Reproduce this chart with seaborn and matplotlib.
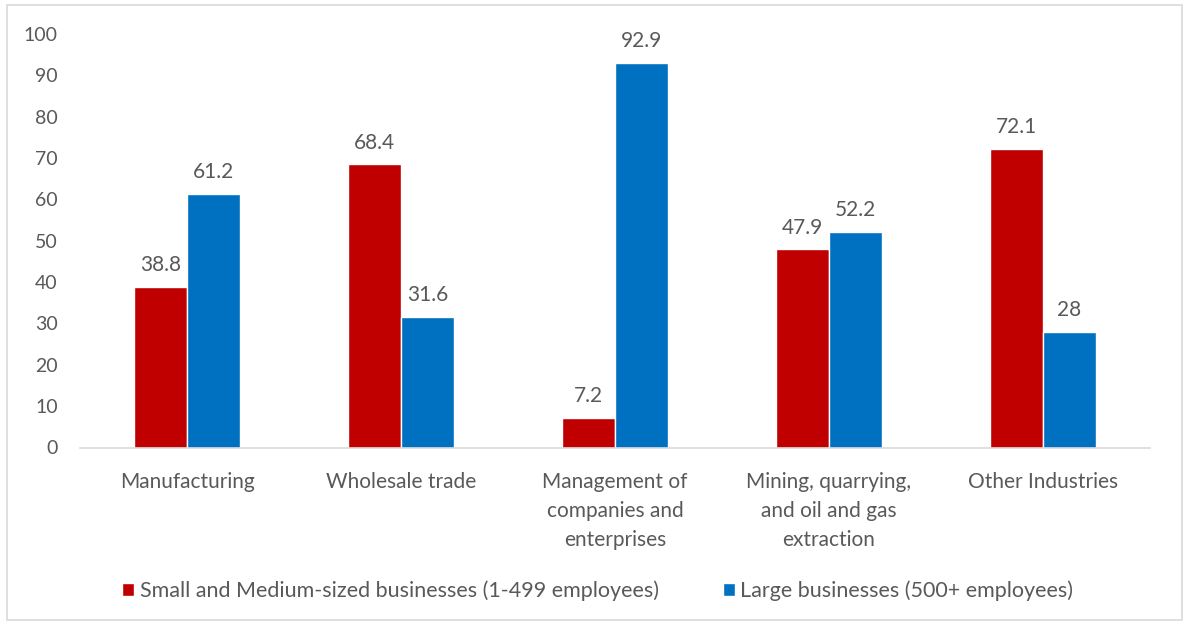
import matplotlib
matplotlib.use("Agg")
import matplotlib.pyplot as plt
import seaborn as sns
import pandas as pd
from matplotlib.patches import Rectangle

categories = [
    "Manufacturing",
    "Wholesale trade",
    "Management of\ncompanies and\nenterprises",
    "Mining, quarrying,\nand oil and gas\nextraction",
    "Other Industries",
]
series_names = [
    "Small and Medium-sized businesses (1-499 employees)",
    "Large businesses (500+ employees)",
]
small_medium = [38.8, 68.4, 7.2, 47.9, 72.1]
large = [61.2, 31.6, 92.9, 52.2, 28]
y_ticks = list(range(0, 101, 10))

colors = ["#C00000", "#0070C0"]
text_color = "#595959"

df = pd.DataFrame({
    "category": categories * 2,
    "series": [series_names[0]] * len(categories) + [series_names[1]] * len(categories),
    "value": small_medium + large,
})

sns.set_theme(style="white")
plt.rcParams["font.family"] = ["Lato", "DejaVu Sans"]

fig = plt.figure(figsize=(11.84, 6.25), dpi=100)
ax = fig.add_axes([0.0676, 0.284, 0.9035, 0.662])

sns.barplot(
    data=df, x="category", y="value", hue="series",
    palette=colors, width=0.495, saturation=1, ax=ax, legend=True,
)

for container in ax.containers:
    ax.bar_label(container, labels=[f"{v:g}" for v in container.datavalues],
                 padding=8.5, fontsize=15, color=text_color)

ax.set_ylim(0, 100)
ax.set_yticks(y_ticks)
ax.set_xlim(-0.5, len(categories) - 0.5)
ax.set_xlabel("")
ax.set_ylabel("")
ax.tick_params(axis="y", length=0, pad=16, labelsize=14, labelcolor=text_color)
ax.tick_params(axis="x", length=0, pad=18, labelsize=15, labelcolor=text_color)
for lbl in ax.get_xticklabels():
    lbl.set_linespacing(1.56)
    lbl.set_verticalalignment("top")

for side in ["left", "right", "top"]:
    ax.spines[side].set_visible(False)
ax.spines["bottom"].set_color("#D9D9D9")
ax.spines["bottom"].set_linewidth(1.2)

handles, labels = ax.get_legend_handles_labels()
ax.legend_.remove()
fig.legend(handles, labels, loc="center", bbox_to_anchor=(0.505, 0.055), ncol=2,
           frameon=False, fontsize=15.5, labelcolor=text_color,
           handlelength=0.55, handleheight=0.55, handletextpad=0.25, columnspacing=3.0)

fig.patches.append(Rectangle((7 / 1184, 5 / 625), 1175 / 1184, 615 / 625,
                             transform=fig.transFigure, fill=False,
                             edgecolor="#D9D9D9", linewidth=1.2))

fig.savefig("out.png", dpi=100, facecolor="white")
